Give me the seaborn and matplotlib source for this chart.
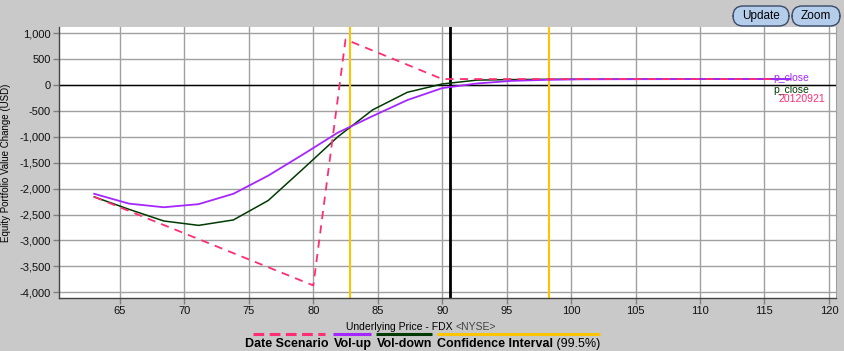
import matplotlib
matplotlib.use("Agg")
import matplotlib.pyplot as plt
import seaborn as sns
import pandas as pd
from matplotlib.patches import FancyBboxPatch
from matplotlib.lines import Line2D
from matplotlib.ticker import FuncFormatter, MultipleLocator

# ---------------- data ----------------
price = [63.0, 65.7, 68.4, 71.1, 73.8, 76.5, 79.2, 81.9, 84.6, 87.3, 90.0,
         92.7, 95.4, 98.1, 100.8, 103.5, 106.2, 108.9, 111.6, 114.3, 117.0]
vol_up = [-2100, -2290, -2360, -2300, -2100, -1750, -1340, -920, -600, -290, -60,
          30, 80, 100, 110, 112, 113, 114, 115, 115, 115]
vol_down = [-2160, -2400, -2625, -2710, -2605, -2230, -1620, -1000, -480, -140, 20,
            95, 105, 110, 112, 113, 114, 115, 115, 115, 115]
date_price = [63.0, 80.0, 82.5, 90.0, 115.5]
date_scenario = [-2160, -3870, 880, 115, 115]

current_price = 90.6
conf_interval = [82.86, 98.3]

x_ticks = [65, 70, 75, 80, 85, 90, 95, 100, 105, 110, 115, 120]
y_ticks = [1000, 500, 0, -500, -1000, -1500, -2000, -2500, -3000, -3500, -4000]

end_labels = ["p_close", "p_close", "20120921"]
legend_names = ["Date Scenario", "Vol-up", "Vol-down", "Confidence Interval"]

C_DATE = "#FF2D72"
C_UP = "#A526FF"
C_DOWN = "#003A00"
C_CI = "#FFC400"
BG = "#C9C9C9"

FONT = ["Liberation Sans", "DejaVu Sans"]
NARROW = ["Liberation Sans Narrow", "Liberation Sans", "DejaVu Sans"]
plt.rcParams["font.family"] = FONT

W, H = 845, 351
fig = plt.figure(figsize=(W / 100, H / 100), dpi=100, facecolor=BG)
ax = fig.add_axes([59 / W, 1 - 298 / H, (836 - 59) / W, (298 - 27) / H])
ax.set_facecolor("white")

# grid & reference lines
ax.set_xlim(60.27, 120.55)
ax.set_ylim(-4112, 1120)
ax.xaxis.set_major_locator(MultipleLocator(5))
ax.set_xticks(x_ticks)
ax.set_yticks(y_ticks)
ax.grid(True, color="#A0A0A0", linewidth=1.0, zorder=0)
ax.set_axisbelow(True)
ax.axhline(0, color="black", linewidth=1.0, zorder=1)
for v in conf_interval:
    ax.axvline(v, color=C_CI, linewidth=1.5, zorder=2)
ax.axvline(current_price, color="black", linewidth=2.0, zorder=2)

# series
df_up = pd.DataFrame({"price": price, "value": vol_up})
df_down = pd.DataFrame({"price": price, "value": vol_down})
df_date = pd.DataFrame({"price": date_price, "value": date_scenario})
sns.lineplot(data=df_down, x="price", y="value", ax=ax, color=C_DOWN,
             linewidth=1.1, estimator=None, sort=False, zorder=3)
sns.lineplot(data=df_up, x="price", y="value", ax=ax, color=C_UP,
             linewidth=1.3, estimator=None, sort=False, zorder=4)
sns.lineplot(data=df_date, x="price", y="value", ax=ax, color=C_DATE,
             linewidth=1.3, estimator=None, sort=False, zorder=5)
ax.lines[-1].set_linestyle((0, (4.5, 3.5)))

# end labels
ax.text(115.65, 135, end_labels[0], color=C_UP, fontsize=7.5, va="center", ha="left", zorder=6)
ax.text(115.65, -90, end_labels[1], color=C_DOWN, fontsize=7.5, va="center", ha="left", zorder=6)
ax.text(116.1, -265, end_labels[2], color=C_DATE, fontsize=7.5, va="center", ha="left", zorder=6)

# axes styling
ax.yaxis.set_major_formatter(FuncFormatter(lambda v, p: f"{int(v):,}"))
ax.tick_params(axis="both", direction="out", length=4, width=1, color="#808080",
               labelsize=8, labelcolor="#111111", pad=2)
ax.set_xlabel("")
ax.set_ylabel("Equity Portfolio Value Change (USD)", fontsize=7, labelpad=6)
for s in ["left", "bottom"]:
    ax.spines[s].set_color("#444444")
    ax.spines[s].set_linewidth(1.0)
ax.spines["top"].set_visible(False)
ax.spines["right"].set_color("#A0A0A0")

# x-axis title (two parts)
fig.canvas.draw()
r = fig.canvas.get_renderer()
t1 = fig.text(0, 1 - 327 / H, "Underlying Price - FDX ", fontsize=7.5, color="black", va="center")
t2 = fig.text(0, 1 - 327 / H, "<NYSE>", fontsize=7.5, color="#444444", va="center")
w1 = t1.get_window_extent(r).width
w2 = t2.get_window_extent(r).width
start = 421 - (w1 + w2) / 2
t1.set_x(start / W)
t2.set_x((start + w1) / W)

# legend row
parts = []
for name in legend_names:
    t = fig.text(0, 1 - 344 / H, name, fontsize=9, fontweight="bold", family=NARROW,
                 color="black", va="center")
    parts.append(t)
extra = fig.text(0, 1 - 344 / H, " (99.5%)", fontsize=9, family=NARROW, color="black", va="center")
widths = [t.get_window_extent(r).width for t in parts]
wextra = extra.get_window_extent(r).width
gap = 5
total = sum(widths) + wextra + gap * (len(parts) - 1)
x = 422.5 - total / 2
colors = [C_DATE, C_UP, C_DOWN, C_CI]
ysw = 1 - 334 / H
for i, (t, w) in enumerate(zip(parts, widths)):
    t.set_x(x / W)
    ww = w + (wextra if i == len(parts) - 1 else 0)
    if i == 0:
        fig.add_artist(Line2D([(x + 8) / W, (x + w - 3) / W], [ysw, ysw], color=colors[i],
                              linewidth=2.2, linestyle=(0, (3.5, 1.8)), transform=fig.transFigure))
    else:
        fig.add_artist(Line2D([x / W, (x + ww) / W], [ysw, ysw], color=colors[i],
                              linewidth=2.2, solid_capstyle="butt", transform=fig.transFigure))
    if i == len(parts) - 1:
        extra.set_x((x + w) / W)
    x += w + gap

# buttons
for (x0, x1, label) in [(733, 789, "Update"), (792, 840, "Zoom")]:
    box = FancyBboxPatch((x0 / W, 1 - 26 / H), (x1 - x0) / W, 20 / H,
                         boxstyle="round,pad=0,rounding_size=0.012",
                         transform=fig.transFigure, facecolor="#B4CDEB",
                         edgecolor="#3A4A66", linewidth=1.0, mutation_aspect=W / H)
    fig.add_artist(box)
    fig.text((x0 + x1) / 2 / W, 1 - 16 / H, label, fontsize=8.5, ha="center",
             va="center", color="black")

fig.savefig("out.png", dpi=100, facecolor=BG)
